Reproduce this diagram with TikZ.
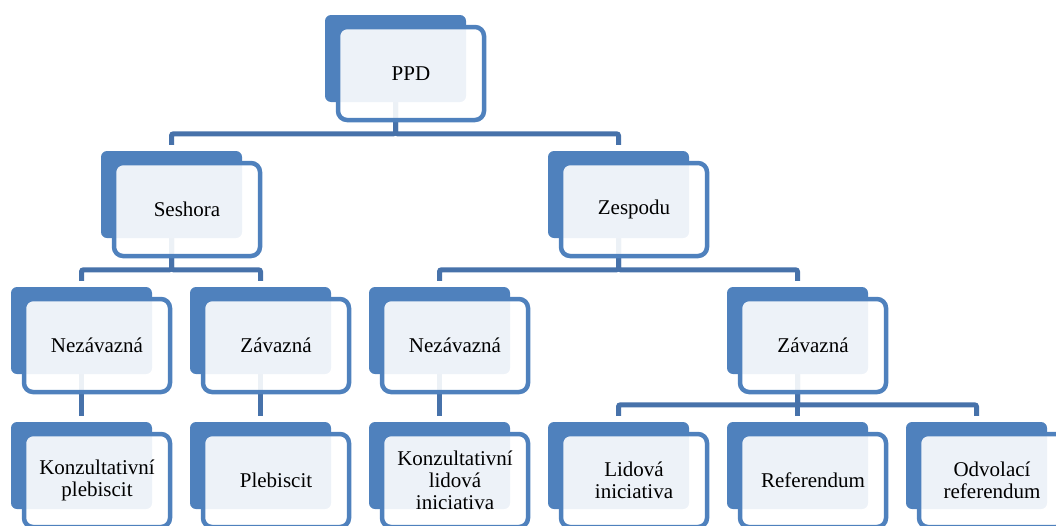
\documentclass[tikz,border=0pt]{standalone}
\usepackage{fontspec}
\setmainfont{Liberation Serif}
\usepackage{tikz}
\usetikzlibrary{positioning,calc}
\definecolor{modra}{RGB}{79,129,189}
\definecolor{tmava}{RGB}{71,114,170}
\pgfdeclarelayer{pozadi}
\pgfsetlayers{pozadi,main}
\tikzstyle{zadni}= [rectangle, fill=modra, rounded corners=6pt, inner sep=0pt, minimum width=141pt, minimum height=87pt]
\tikzstyle{predni}= [rectangle, draw=modra, line width=4.5pt, rounded corners=9pt, fill=white, fill opacity=0.9, text opacity=1, inner sep=0pt, minimum width=146pt, minimum height=93pt, align=center, font=\fontsize{21}{22}\selectfont]
\tikzstyle{spoj}= [draw=tmava, line width=5pt, rounded corners=2pt]
% zadni obdelnik + predni ramecek s textem
\newcommand{\blok}[4]{
	\node[zadni] (#1) at (#2,#3) {};
	\node[predni] (#1f) at ($(#1)+(15.5,15)$) {#4};
}

\begin{document}
\begin{tikzpicture}[x=1pt,y=-1pt]
				\useasboundingbox (0,0) rectangle (1056,525);
				\clip (0,0) rectangle (1056,525);
				\blok{ppd}{395.5}{58.5}{PPD}
				\blok{ses}{171.5}{194.5}{Seshora}
				\blok{zes}{618.5}{194.5}{Zespodu}
				\blok{snez}{81.5}{330.5}{Nezávazná}
				\blok{szav}{260.5}{330.5}{Závazná}
				\blok{znez}{439.5}{330.5}{Nezávazná}
				\blok{zzav}{797.5}{330.5}{Závazná}
				\blok{kpl}{81.5}{465.5}{Konzultativní\\plebiscit}
				\blok{pleb}{260.5}{465.5}{Plebiscit}
				\blok{kli}{439.5}{465.5}{Konzultativní\\lidová\\iniciativa}
				\blok{li}{618.5}{465.5}{Lidová\\iniciativa}
				\blok{ref}{797.5}{465.5}{Referendum}
				\blok{odv}{976.5}{465.5}{Odvolací\\referendum}
				\begin{pgfonlayer}{pozadi}
				\draw[spoj] (ppd.south) |- ($(ses.north)+(0,-17)$) -- ($(ses.north)+(0,-6)$);
				\draw[spoj] (ppd.south) |- ($(zes.north)+(0,-17)$) -- ($(zes.north)+(0,-6)$);
				\draw[spoj] (ses.south) |- ($(snez.north)+(0,-17)$) -- ($(snez.north)+(0,-6)$);
				\draw[spoj] (ses.south) |- ($(szav.north)+(0,-17)$) -- ($(szav.north)+(0,-6)$);
				\draw[spoj] (zes.south) |- ($(znez.north)+(0,-17)$) -- ($(znez.north)+(0,-6)$);
				\draw[spoj] (zes.south) |- ($(zzav.north)+(0,-17)$) -- ($(zzav.north)+(0,-6)$);
				\draw[spoj] (snez.south) -- ($(kpl.north)+(0,-6)$);
				\draw[spoj] (szav.south) -- ($(pleb.north)+(0,-6)$);
				\draw[spoj] (znez.south) -- ($(kli.north)+(0,-6)$);
				\draw[spoj] (zzav.south) |- ($(li.north)+(0,-17)$) -- ($(li.north)+(0,-6)$);
				\draw[spoj] (zzav.south) -- ($(ref.north)+(0,-6)$);
				\draw[spoj] (zzav.south) |- ($(odv.north)+(0,-17)$) -- ($(odv.north)+(0,-6)$);
				\end{pgfonlayer}
			\end{tikzpicture}
\end{document}
